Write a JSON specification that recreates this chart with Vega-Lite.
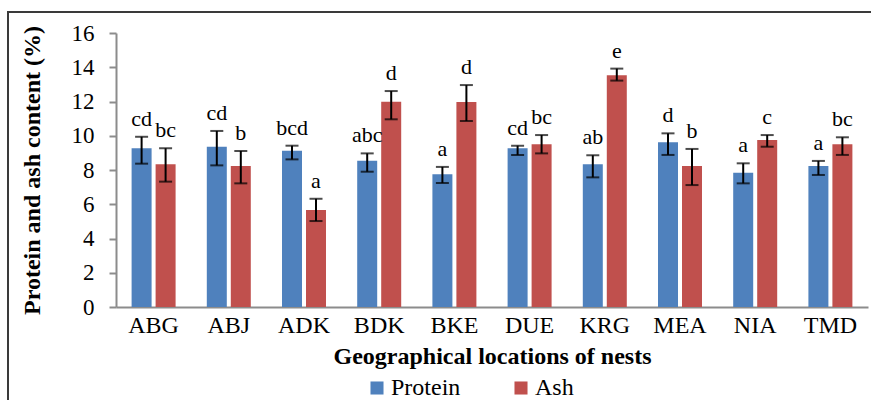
{
  "$schema": "https://vega.github.io/schema/vega-lite/v6.json",
  "autosize": "none",
  "width": 863,
  "height": 388,
  "padding": {"left": 8, "top": 12, "right": 0, "bottom": 0},
  "view": {"stroke": "#3a3a3a", "strokeWidth": 2, "strokeDash": [863, 1251, 400]},
  "title": {
    "text": "mbs varies from 5.67 ± 0.65 % to 13.53",
    "anchor": "start",
    "frame": "group",
    "orient": "top",
    "font": "Liberation Serif",
    "fontSize": 27,
    "fontWeight": "normal",
    "color": "#000000",
    "baseline": "alphabetic",
    "dx": -10,
    "dy": 7,
    "offset": 0
  },
  "data": {
    "values": [
      {"loc": "ABG", "nutrient": "Protein", "value": 9.27, "lo": 8.37, "hi": 9.94, "letter": "cd"},
      {"loc": "ABG", "nutrient": "Ash", "value": 8.33, "lo": 7.32, "hi": 9.27, "letter": "bc"},
      {"loc": "ABJ", "nutrient": "Protein", "value": 9.36, "lo": 8.27, "hi": 10.28, "letter": "cd"},
      {"loc": "ABJ", "nutrient": "Ash", "value": 8.23, "lo": 7.22, "hi": 9.11, "letter": "b"},
      {"loc": "ADK", "nutrient": "Protein", "value": 9.13, "lo": 8.62, "hi": 9.42, "letter": "bcd"},
      {"loc": "ADK", "nutrient": "Ash", "value": 5.67, "lo": 5.02, "hi": 6.32, "letter": "a"},
      {"loc": "BDK", "nutrient": "Protein", "value": 8.54, "lo": 7.9, "hi": 8.97, "letter": "abc"},
      {"loc": "BDK", "nutrient": "Ash", "value": 11.99, "lo": 10.96, "hi": 12.61, "letter": "d"},
      {"loc": "BKE", "nutrient": "Protein", "value": 7.75, "lo": 7.24, "hi": 8.18, "letter": "a"},
      {"loc": "BKE", "nutrient": "Ash", "value": 11.97, "lo": 10.86, "hi": 12.96, "letter": "d"},
      {"loc": "DUE", "nutrient": "Protein", "value": 9.27, "lo": 8.88, "hi": 9.42, "letter": "cd"},
      {"loc": "DUE", "nutrient": "Ash", "value": 9.5, "lo": 8.97, "hi": 10.04, "letter": "bc"},
      {"loc": "KRG", "nutrient": "Protein", "value": 8.33, "lo": 7.57, "hi": 8.86, "letter": "ab"},
      {"loc": "KRG", "nutrient": "Ash", "value": 13.53, "lo": 13.22, "hi": 13.92, "letter": "e"},
      {"loc": "MEA", "nutrient": "Protein", "value": 9.62, "lo": 8.88, "hi": 10.14, "letter": "d"},
      {"loc": "MEA", "nutrient": "Ash", "value": 8.23, "lo": 7.12, "hi": 9.23, "letter": "b"},
      {"loc": "NIA", "nutrient": "Protein", "value": 7.84, "lo": 7.22, "hi": 8.39, "letter": "a"},
      {"loc": "NIA", "nutrient": "Ash", "value": 9.75, "lo": 9.36, "hi": 10.04, "letter": "c"},
      {"loc": "TMD", "nutrient": "Protein", "value": 8.23, "lo": 7.71, "hi": 8.53, "letter": "a"},
      {"loc": "TMD", "nutrient": "Ash", "value": 9.5, "lo": 8.88, "hi": 9.91, "letter": "bc"}
    ]
  },
  "encoding": {
    "x": {
      "field": "loc",
      "type": "nominal",
      "sort": null,
      "scale": {"range": [108, 860], "paddingInner": 0.415, "paddingOuter": 0.2075},
      "axis": {
        "title": "Geographical locations of nests",
        "offset": -93,
        "labelAngle": 0,
        "labelFont": "Liberation Serif",
        "labelFontSize": 24,
        "labelColor": "#000000",
        "labelPadding": 6,
        "ticks": false,
        "domainColor": "#8c8c8c",
        "domainWidth": 2,
        "titleFont": "Liberation Serif",
        "titleFontSize": 24,
        "titleFontWeight": "bold",
        "titleColor": "#000000",
        "titlePadding": 7
      }
    },
    "xOffset": {
      "field": "nutrient",
      "type": "nominal",
      "sort": ["Protein", "Ash"],
      "scale": {"paddingInner": 0.1667, "paddingOuter": 0}
    }
  },
  "layer": [
    {
      "mark": {"type": "bar"},
      "encoding": {
        "y": {
          "field": "value",
          "type": "quantitative",
          "scale": {"domain": [0, 16], "nice": false, "range": [295, 21]},
          "title": "Protein and ash content (%)"
        },
        "color": {
          "field": "nutrient",
          "type": "nominal",
          "sort": ["Protein", "Ash"],
          "scale": {"domain": ["Protein", "Ash"], "range": ["#4F81BD", "#C0504D"]},
          "legend": {
            "title": null,
            "orient": "none",
            "direction": "horizontal",
            "legendX": 357,
            "legendY": 364,
            "symbolType": "square",
            "symbolSize": 170,
            "symbolStrokeWidth": 0,
            "symbolOpacity": 1,
            "labelFont": "Liberation Serif",
            "labelFontSize": 24,
            "labelColor": "#000000",
            "labelOffset": 2,
            "columnPadding": 48
          }
        }
      }
    },
    {
      "mark": {"type": "rule", "color": "#000000", "strokeWidth": 2},
      "encoding": {
        "y": {"field": "lo", "type": "quantitative"},
        "y2": {"field": "hi"}
      }
    },
    {
      "mark": {"type": "tick", "color": "#000000", "thickness": 2, "size": 13, "orient": "horizontal"},
      "encoding": {"y": {"field": "lo", "type": "quantitative"}}
    },
    {
      "mark": {"type": "tick", "color": "#000000", "thickness": 2, "size": 13, "orient": "horizontal"},
      "encoding": {"y": {"field": "hi", "type": "quantitative"}}
    },
    {
      "mark": {"type": "text", "font": "Liberation Serif", "fontSize": 22, "color": "#000000", "baseline": "alphabetic", "dy": -11},
      "encoding": {
        "y": {"field": "hi", "type": "quantitative"},
        "text": {"field": "letter"}
      }
    }
  ],
  "config": {
    "font": "Liberation Serif",
    "view": {"stroke": "#3a3a3a", "strokeWidth": 2, "strokeDash": [863, 1251, 400]},
    "axisY": {
      "offset": -108,
      "tickCount": 9,
      "labelOverlap": false,
      "grid": false,
      "labelFont": "Liberation Serif",
      "labelFontSize": 23,
      "labelColor": "#000000",
      "labelPadding": 15,
      "tickSize": 7,
      "tickColor": "#8c8c8c",
      "tickWidth": 2,
      "domainColor": "#8c8c8c",
      "domainWidth": 2,
      "titleFont": "Liberation Serif",
      "titleFontSize": 24,
      "titleFontWeight": "bold",
      "titleColor": "#000000",
      "titlePadding": 27
    },
    "style": {"guide-label": {"font": "Liberation Serif"}, "guide-title": {"font": "Liberation Serif"}},
    "legend": {"labelFont": "Liberation Serif", "labelFontSize": 24, "labelColor": "#000000"}
  }
}
